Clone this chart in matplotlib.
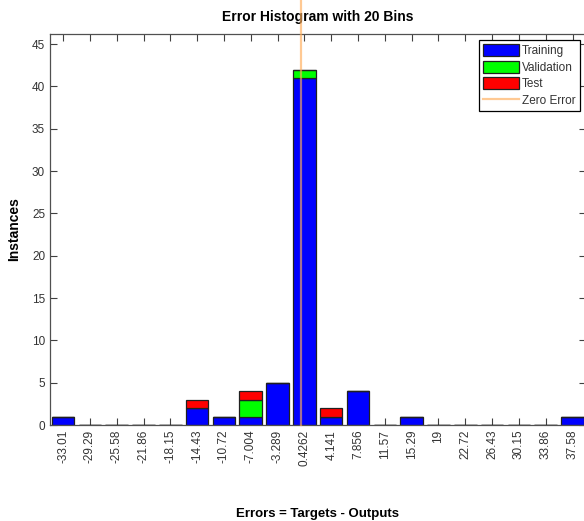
import numpy as np
import matplotlib
matplotlib.use("Agg")
import matplotlib.pyplot as plt

plt.rcParams['font.family'] = ['Liberation Sans', 'DejaVu Sans']

# bin centres (as printed on the axis) and counts per subset
bin_labels = ['-33.01', '-29.29', '-25.58', '-21.86', '-18.15', '-14.43', '-10.72',
              '-7.004', '-3.289', '0.4262', '4.141', '7.856', '11.57', '15.29',
              '19', '22.72', '26.43', '30.15', '33.86', '37.58']
bin_centers = np.array([float(s) for s in bin_labels])
training   = [1, 0, 0, 0, 0, 2, 1, 1, 5, 41, 1, 4, 0, 1, 0, 0, 0, 0, 0, 1]
validation = [0, 0, 0, 0, 0, 0, 0, 2, 0, 1, 0, 0, 0, 0, 0, 0, 0, 0, 0, 0]
test       = [0, 0, 0, 0, 0, 1, 0, 1, 0, 0, 1, 0, 0, 0, 0, 0, 0, 0, 0, 0]

training = np.array(training)
validation = np.array(validation)
test = np.array(test)
bw = bin_centers[1] - bin_centers[0]

fig = plt.figure(figsize=(5.84, 5.21), dpi=100)
ax = fig.add_axes([50 / 584, 96 / 521, 536 / 584, 391 / 521])
ax.set_axisbelow(True)

w = bw * 0.84
h1 = ax.bar(bin_centers, training, width=w, color=(0, 0, 1), edgecolor='#202020',
            linewidth=0.9, label='Training')
h2 = ax.bar(bin_centers, validation, width=w, bottom=training, color=(0, 1, 0),
            edgecolor='#202020', linewidth=0.9, label='Validation')
h3 = ax.bar(bin_centers, test, width=w, bottom=training + validation, color=(1, 0, 0),
            edgecolor='#202020', linewidth=0.9, label='Test')
h4 = ax.axvline(0, ymin=0, ymax=1.09, color=(1.0, 0.68, 0.35), alpha=0.65,
                linewidth=1.6, clip_on=False, label='Zero Error', zorder=5)

ax.set_xlim(bin_centers[0] - 0.485 * bw, bin_centers[-1] + 0.5 * bw)
ax.set_ylim(0, 46.2)
ax.set_xticks(bin_centers)
ax.set_xticklabels(bin_labels, rotation=90)
ax.set_yticks(np.arange(0, 46, 5))
ax.tick_params(direction='in', length=5, width=0.8, colors='#404040',
               labelcolor='#333333', labelsize=8.5, top=True, right=True)
for s in ax.spines.values():
    s.set_color('#505050')
    s.set_linewidth(0.9)

ax.set_title('Error Histogram with 20 Bins', fontsize=10, fontweight='bold', pad=9)
ax.set_xlabel('Errors = Targets - Outputs', fontsize=9.5, fontweight='bold', labelpad=30)
ax.set_ylabel('Instances', fontsize=10, fontweight='bold', labelpad=8)

leg = ax.legend([h1, h2, h3, h4], ['Training', 'Validation', 'Test', 'Zero Error'],
                loc='upper right', bbox_to_anchor=(580 / 584, 1 - 40 / 521),
                bbox_transform=fig.transFigure, borderaxespad=0, fontsize=8.5,
                fancybox=False, framealpha=1, edgecolor='black',
                handlelength=3.0, handleheight=1.2, handletextpad=0.3,
                labelspacing=0.3, borderpad=0.35)
leg.get_frame().set_linewidth(0.9)
for t in leg.get_texts():
    t.set_color('#333333')

fig.savefig('out.png', dpi=100)
